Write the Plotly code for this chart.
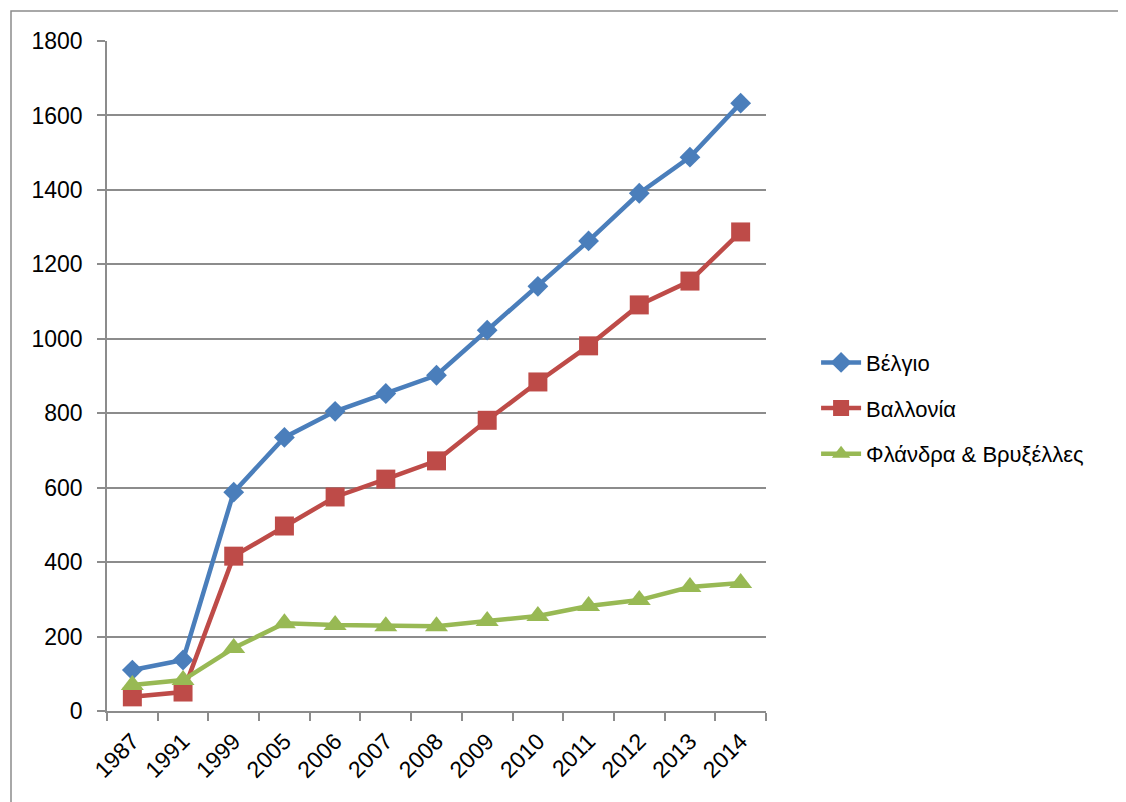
import plotly.graph_objects as go

years = ["1987", "1991", "1999", "2005", "2006", "2007", "2008", "2009", "2010", "2011", "2012", "2013", "2014"]
belgio = [110, 137, 588, 735, 805, 853, 902, 1023, 1141, 1263, 1391, 1488, 1633]
vallonia = [38, 51, 416, 497, 575, 623, 672, 781, 884, 981, 1091, 1155, 1287]
flandra = [70, 83, 169, 236, 231, 228, 228, 242, 255, 282, 298, 333, 344]

names = ["Βέλγιο", "Βαλλονία", "Φλάνδρα & Βρυξέλλες"]
colors = ["#4a7ebb", "#be4b48", "#98b954"]
symbols = ["diamond", "square", "triangle-up"]
sizes = [16, 19, 20]

fig = go.Figure()
for i, ys in enumerate([belgio, vallonia, flandra]):
    fig.add_trace(go.Scatter(
        x=years, y=ys, name=names[i], mode="lines+markers",
        line=dict(color=colors[i], width=4.5),
        marker=dict(symbol=symbols[i], size=sizes[i], color=colors[i]),
        legendgroup=str(i),
    ))

grid = "#8c8c8c"
# page has an 8px body margin; pixel targets below are in window coordinates
W, H = 1118, 794
L, T = 99, 33           # plot left / top (window 107 / 41)
PW, PH = 659, 670       # plot width / height
fig.update_layout(
    width=W, height=H,
    margin=dict(l=L, r=W - L - PW, t=T, b=H - T - PH, autoexpand=False),
    paper_bgcolor="white", plot_bgcolor="white",
    font=dict(family="Liberation Sans, Arial, sans-serif", size=23, color="black"),
    showlegend=True,
    legend=dict(x=1.076, y=0.452, xanchor="left", yanchor="middle",
                font=dict(size=22), tracegroupgap=14, itemwidth=40,
                bgcolor="rgba(0,0,0,0)"),
    xaxis=dict(type="category", showgrid=False, showline=True, linecolor=grid, linewidth=1.5,
               ticks="outside", tickson="boundaries", ticklen=8, tickcolor=grid, tickwidth=1.5,
               tickangle=-45, tickfont=dict(size=23), range=[-0.5, 12.5],
               ticklabelstandoff=6),
    yaxis=dict(range=[0, 1800], dtick=200, showgrid=True, gridcolor=grid, gridwidth=1.5,
               showline=True, linecolor=grid, linewidth=1.5, zeroline=False,
               ticks="outside", ticklen=8, tickcolor=grid, tickwidth=1.5,
               tickfont=dict(size=23), ticklabelstandoff=10),
    shapes=[dict(type="rect", xref="paper", yref="paper",
                 x0=(11 - 107) / PW, x1=(1140 - 107) / PW,
                 y0=(711 - 815) / PH, y1=(711 - 11) / PH,
                 line=dict(color=grid, width=1.5), layer="below")],
)

fig.write_html("out.html")
